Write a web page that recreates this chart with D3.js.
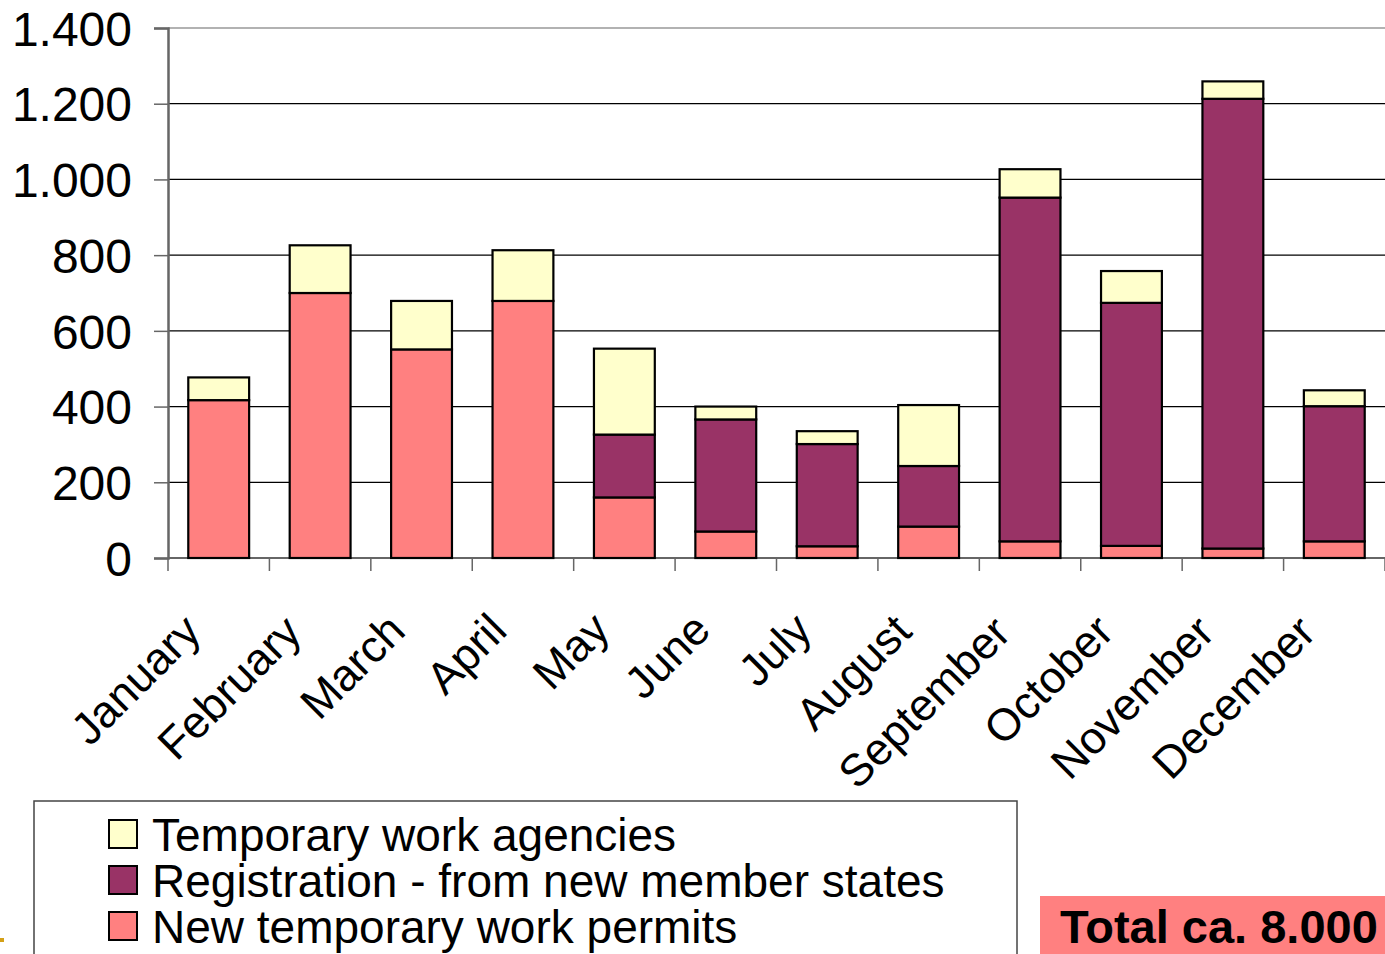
<!DOCTYPE html>
<html>
<head>
<meta charset="utf-8">
<script src="https://cdn.jsdelivr.net/npm/d3@7"></script>
<style>
  body { margin: 0; background: #fff; }
  text { font-family: "Liberation Sans", Arial, sans-serif; }
</style>
</head>
<body>
<div id="chart"></div>
<script>
var months = ["January", "February", "March", "April", "May", "June", "July",
  "August", "September", "October", "November", "December"];
var permits = [417, 700, 551, 679, 160, 70, 31, 83, 44, 32, 25, 44];
var registration = [0, 0, 0, 0, 166, 296, 270, 160, 908, 642, 1188, 357];
var agencies = [60, 126, 128, 134, 227, 34, 34, 161, 75, 84, 46, 42];
var yTicks = [0, 200, 400, 600, 800, 1000, 1200, 1400];
var seriesNames = ["New temporary work permits", "Registration - from new member states", "Temporary work agencies"];
var seriesColors = ["#ff8080", "#993366", "#ffffcc"];

var svgWidth = 1385;
var svgHeight = 954;

var svg = d3.select("#chart")
    .append("svg")
    .attr("width", svgWidth)
    .attr("height", svgHeight);

var plotLeft = 168, plotRight = 1385, plotTop = 28, plotBottom = 558;

var x = d3.scaleBand()
    .domain(months)
    .range([plotLeft, plotRight])
    .paddingInner(0.4)
    .paddingOuter(0.2);

var y = d3.scaleLinear()
    .domain([0, 1400])
    .range([plotBottom, plotTop]);

// gridlines
svg.append("g").selectAll("line")
    .data(yTicks.slice(1))
    .enter()
    .append("line")
    .attr("x1", plotLeft)
    .attr("x2", plotRight)
    .attr("y1", d => y(d))
    .attr("y2", d => y(d))
    .attr("stroke", d => d == 1400 ? "#666" : "#000")
    .attr("stroke-width", 1.2);

// y axis
var leftAxis = d3.axisLeft(y)
    .tickValues(yTicks)
    .tickSize(14)
    .tickPadding(22)
    .tickFormat(d => d3.format(",")(d).replace(",", "."));

var yAxis = svg.append("g")
    .attr("transform", `translate(${plotLeft}, 0)`)
    .call(leftAxis);
yAxis.select(".domain").attr("stroke", "#666").attr("stroke-width", 2.5);
yAxis.selectAll(".tick line").attr("stroke", "#666").attr("stroke-width", 1.5);
yAxis.selectAll("text")
    .attr("font-size", "48px")
    .attr("fill", "#000")
    .attr("dy", "0.36em");

// x axis baseline and ticks at band boundaries
svg.append("line")
    .attr("x1", plotLeft).attr("x2", plotRight)
    .attr("y1", plotBottom).attr("y2", plotBottom)
    .attr("stroke", "#666").attr("stroke-width", 2);

svg.append("g").selectAll("line")
    .data(d3.range(months.length + 1))
    .enter()
    .append("line")
    .attr("x1", i => plotLeft + i * x.step())
    .attr("x2", i => plotLeft + i * x.step())
    .attr("y1", plotBottom)
    .attr("y2", plotBottom + 13)
    .attr("stroke", "#666")
    .attr("stroke-width", 1.5);

// stacked bars
var table = months.map(function(m, i) {
    return { month: m, permits: permits[i], registration: registration[i], agencies: agencies[i] };
});
var stack = d3.stack().keys(["permits", "registration", "agencies"]);
var layers = stack(table);

svg.append("g").selectAll("g")
    .data(layers)
    .enter()
    .append("g")
    .attr("fill", (d, i) => seriesColors[i])
    .selectAll("rect")
    .data(d => d.filter(p => p[1] > p[0]))
    .enter()
    .append("rect")
    .attr("x", d => x(d.data.month))
    .attr("y", d => y(d[1]))
    .attr("width", x.bandwidth())
    .attr("height", d => y(d[0]) - y(d[1]))
    .attr("stroke", "#000")
    .attr("stroke-width", 2.2);

// month labels
svg.append("g").selectAll("text")
    .data(months)
    .enter()
    .append("text")
    .attr("transform", (d, i) => `translate(${x(d) + x.bandwidth() / 2 - 10 - d.length * 0.8}, ${630 + d.length * 0.6}) rotate(-45)`)
    .attr("text-anchor", "end")
    .attr("font-size", "45px")
    .attr("fill", "#000")
    .text(d => d);

// legend
svg.append("rect")
    .attr("x", 34).attr("y", 801)
    .attr("width", 983).attr("height", 170)
    .attr("fill", "#fff")
    .attr("stroke", "#444")
    .attr("stroke-width", 1.5);

var legendOrder = [2, 1, 0];
var legend = svg.append("g").selectAll("g")
    .data(legendOrder)
    .enter()
    .append("g")
    .attr("transform", (d, i) => `translate(109, ${820 + i * 46})`);

legend.append("rect")
    .attr("width", 28).attr("height", 28)
    .attr("fill", d => seriesColors[d])
    .attr("stroke", "#000")
    .attr("stroke-width", 2);

legend.append("text")
    .attr("x", 43)
    .attr("y", 14)
    .attr("dy", "0.36em")
    .attr("font-size", "46px")
    .attr("fill", "#000")
    .text(d => seriesNames[d]);

// total box
svg.append("rect")
    .attr("x", 1040).attr("y", 896)
    .attr("width", 345).attr("height", 60)
    .attr("fill", "#ff8080");

svg.append("text")
    .attr("x", 1060)
    .attr("y", 943)
    .attr("font-size", "47px")
    .attr("font-weight", "bold")
    .attr("fill", "#000")
    .text("Total ca. 8.000");

// little bullet mark at bottom left
svg.append("rect")
    .attr("x", 0).attr("y", 938)
    .attr("width", 4).attr("height", 4)
    .attr("fill", "#d4a017");
</script>
</body>
</html>
